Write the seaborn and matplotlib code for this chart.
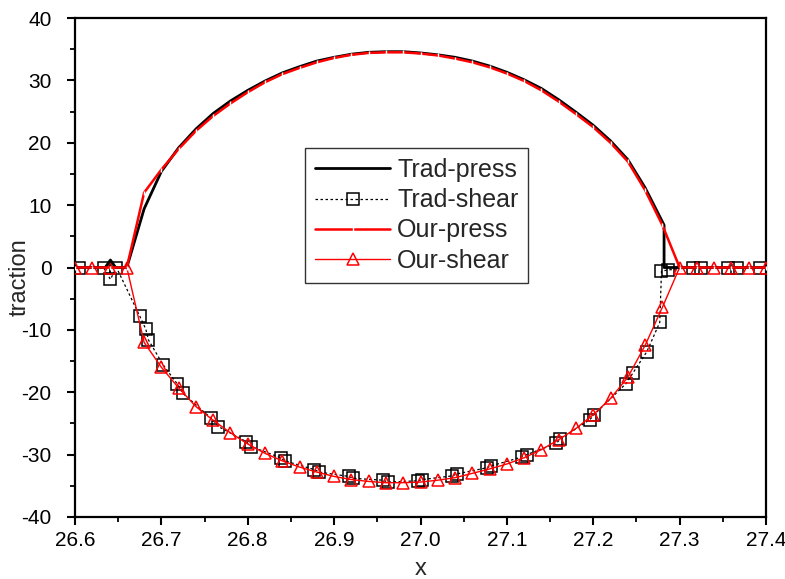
import numpy as np
import pandas as pd
import matplotlib
matplotlib.use("Agg")
import matplotlib.pyplot as plt
import seaborn as sns

# ---- data ----
trad_press_x = [26.60, 26.62, 26.635, 26.641, 26.647, 26.66, 26.68, 26.70, 26.72, 26.74,
                26.76, 26.78, 26.80, 26.82, 26.84, 26.86, 26.88, 26.90, 26.92, 26.94,
                26.96, 26.98, 27.00, 27.02, 27.04, 27.06, 27.08, 27.10, 27.12, 27.14,
                27.16, 27.18, 27.20, 27.22, 27.24, 27.26, 27.282, 27.282, 27.30, 27.40]
trad_press_y = [0.0, 0.0, 0.0, 1.2, 0.0, 0.0, 9.4, 15.4, 19.2, 22.2,
                24.7, 26.7, 28.4, 29.9, 31.2, 32.2, 33.1, 33.7, 34.2, 34.5,
                34.6, 34.6, 34.4, 34.1, 33.7, 33.1, 32.3, 31.3, 30.1, 28.7,
                26.9, 24.9, 22.8, 20.3, 17.3, 12.8, 6.8, 0.0, 0.0, 0.0]

trad_shear_x = [26.605, 26.633, 26.641, 26.648, 26.675, 26.682, 26.685, 26.702, 26.718, 26.725,
                26.758, 26.766, 26.798, 26.804, 26.838, 26.843, 26.877, 26.883, 26.917, 26.922,
                26.957, 26.962, 26.997, 27.002, 27.037, 27.042, 27.077, 27.082, 27.117, 27.123,
                27.157, 27.162, 27.196, 27.201, 27.238, 27.246, 27.262, 27.277, 27.279, 27.286,
                27.316, 27.325, 27.356, 27.366, 27.393]
trad_shear_y = [0.0, 0.0, -1.9, 0.0, -7.8, -9.9, -11.6, -15.6, -18.6, -20.2,
                -24.2, -25.5, -27.9, -28.7, -30.5, -31.0, -32.4, -32.8, -33.5, -33.8,
                -34.1, -34.4, -34.2, -34.0, -33.4, -33.1, -32.1, -31.8, -30.4, -30.0,
                -28.2, -27.5, -24.4, -23.6, -18.6, -16.9, -13.5, -8.8, -0.6, -0.4,
                0.0, 0.0, 0.0, 0.0, 0.0]

our_x = [26.60, 26.62, 26.64, 26.66, 26.68, 26.70, 26.72, 26.74, 26.76, 26.78,
         26.80, 26.82, 26.84, 26.86, 26.88, 26.90, 26.92, 26.94, 26.96, 26.98,
         27.00, 27.02, 27.04, 27.06, 27.08, 27.10, 27.12, 27.14, 27.16, 27.18,
         27.20, 27.22, 27.24, 27.26, 27.28, 27.30, 27.32, 27.34, 27.36, 27.38, 27.40]
our_press = [0.0, 0.0, 0.0, 0.0, 12.0, 15.7, 19.0, 21.9, 24.3, 26.3,
             28.1, 29.7, 31.0, 32.0, 32.9, 33.6, 34.1, 34.4, 34.5, 34.5,
             34.3, 34.0, 33.5, 32.9, 32.1, 31.1, 29.9, 28.4, 26.6, 24.6,
             22.5, 20.0, 17.0, 12.4, 6.8, 0.0, 0.0, 0.0, 0.0, 0.0, 0.0]
our_shear = [0.0, 0.0, 0.0, 0.0, -12.0, -16.0, -19.3, -22.3, -24.5, -26.5,
             -28.3, -29.8, -31.0, -32.0, -32.8, -33.5, -34.0, -34.3, -34.5, -34.5,
             -34.4, -34.1, -33.7, -33.0, -32.3, -31.5, -30.5, -29.2, -27.6, -25.8,
             -23.6, -21.0, -17.6, -12.5, -6.4, 0.0, 0.0, 0.0, 0.0, 0.0, 0.0]

x_ticks = [26.6, 26.7, 26.8, 26.9, 27.0, 27.1, 27.2, 27.3, 27.4]
y_ticks = [-40, -30, -20, -10, 0, 10, 20, 30, 40]
series_names = ["Trad-press", "Trad-shear", "Our-press", "Our-shear"]

# ---- style ----
sns.set_style("white")
plt.rcParams["font.family"] = ["Liberation Sans", "DejaVu Sans"]

fig = plt.figure(figsize=(7.85, 5.79), dpi=100)
ax = fig.add_axes([75/785, 1-517/579, (766-75)/785, (517-18)/579])

df_tp = pd.DataFrame({"x": trad_press_x, "y": trad_press_y})
df_ts = pd.DataFrame({"x": trad_shear_x, "y": trad_shear_y})
df_op = pd.DataFrame({"x": our_x, "y": our_press})
df_os = pd.DataFrame({"x": our_x, "y": our_shear})

sns.lineplot(data=df_ts, x="x", y="y", ax=ax, sort=False, estimator=None,
             color="black", lw=0.9, linestyle=(0, (2, 2)), marker="s", markersize=8,
             markerfacecolor="none", markeredgecolor="black", markeredgewidth=1.1,
             label=series_names[1], zorder=2)
sns.lineplot(data=df_os, x="x", y="y", ax=ax, sort=False, estimator=None,
             color="red", lw=1.0, marker="^", markersize=9,
             markerfacecolor="none", markeredgecolor="red", markeredgewidth=1.1,
             label=series_names[3], zorder=3)
sns.lineplot(data=df_tp, x="x", y="y", ax=ax, sort=False, estimator=None,
             color="black", lw=2.0, label=series_names[0], zorder=4)
sns.lineplot(data=df_op, x="x", y="y", ax=ax, sort=False, estimator=None,
             color="red", lw=1.8, marker="|", markersize=2.5, markeredgewidth=1,
             label=series_names[2], zorder=5)

ax.set_xlim(26.6, 27.4)
ax.set_ylim(-40, 40)
ax.set_xticks(x_ticks)
ax.set_xticklabels([f"{v:.1f}" for v in x_ticks])
ax.set_yticks(y_ticks)
ax.set_yticklabels([str(v) for v in y_ticks])
ax.set_xticks([26.65, 26.75, 26.85, 26.95, 27.05, 27.15, 27.25, 27.35], minor=True)
ax.set_yticks([-35, -25, -15, -5, 5, 15, 25, 35], minor=True)
ax.tick_params(axis="both", which="major", direction="out", length=6, width=1.5,
               labelsize=15, color="black", labelcolor="black", bottom=True, left=True,
               top=False, right=False)
ax.tick_params(axis="y", which="major", pad=11)
ax.tick_params(axis="x", which="major", pad=4)
ax.tick_params(axis="both", which="minor", direction="out", length=3.5, width=1.3,
               color="black", bottom=True, left=True, top=False, right=False)
for s in ax.spines.values():
    s.set_visible(True)
    s.set_color("black")
    s.set_linewidth(1.6)

ax.set_xlabel("x", fontsize=17, labelpad=6)
ax.set_ylabel("traction", fontsize=17)
ax.yaxis.set_label_coords((31 - 75) / 691, (517 - 277) / 499)

handles, labels = ax.get_legend_handles_labels()
order = [labels.index(n) for n in series_names]
leg = ax.legend([handles[i] for i in order], [labels[i] for i in order],
                loc="upper left", bbox_to_anchor=((305-75)/691, (517-148)/499),
                borderaxespad=0, fontsize=18, frameon=True, fancybox=False,
                edgecolor="black", handlelength=3.0, handletextpad=0.28,
                labelspacing=0.25, borderpad=0.4)
leg.get_frame().set_linewidth(1.0)

fig.savefig("out.png", dpi=100)
